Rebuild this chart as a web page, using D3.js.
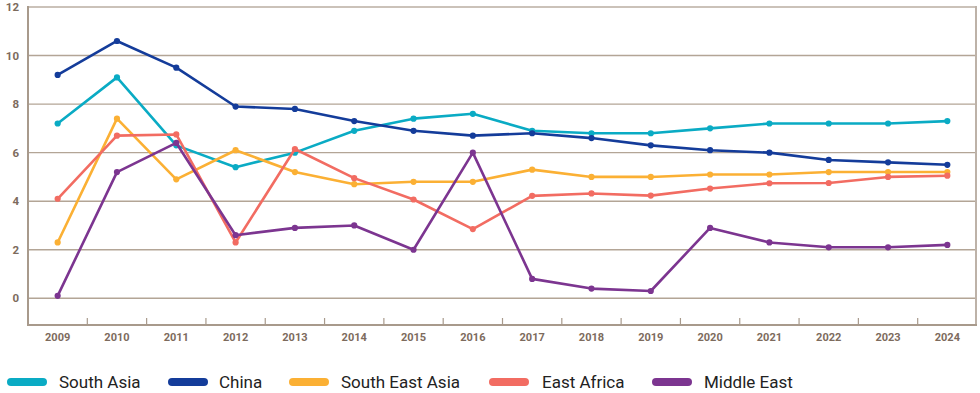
<!DOCTYPE html>
<html>
<head>
<meta charset="utf-8">
<script src="https://cdn.jsdelivr.net/npm/d3@7"></script>
<style>
  html, body { margin: 0; padding: 0; background: #fff; }
  svg { display: block; font-family: Roboto, "Noto Sans", sans-serif; }
</style>
</head>
<body>
<svg id="chart" width="980" height="393"></svg>
<script>
// Years on the horizontal axis
const years = ["2009","2010","2011","2012","2013","2014","2015","2016","2017","2018","2019","2020","2021","2022","2023","2024"];

// One series per region
const southAsia     = [7.2, 9.1, 6.3, 5.4, 6.0, 6.9, 7.4, 7.6, 6.9, 6.8, 6.8, 7.0, 7.2, 7.2, 7.2, 7.3];
const china         = [9.2, 10.6, 9.5, 7.9, 7.8, 7.3, 6.9, 6.7, 6.8, 6.6, 6.3, 6.1, 6.0, 5.7, 5.6, 5.5];
const southEastAsia = [2.3, 7.4, 4.9, 6.1, 5.2, 4.7, 4.8, 4.8, 5.3, 5.0, 5.0, 5.1, 5.1, 5.2, 5.2, 5.2];
const eastAfrica    = [4.1, 6.7, 6.75, 2.3, 6.15, 4.95, 4.07, 2.85, 4.22, 4.32, 4.23, 4.52, 4.74, 4.75, 5.0, 5.05];
const middleEast    = [0.1, 5.2, 6.4, 2.6, 2.9, 3.0, 2.0, 6.0, 0.8, 0.4, 0.3, 2.9, 2.3, 2.1, 2.1, 2.2];

const seriesNames  = ["South Asia", "China", "South East Asia", "East Africa", "Middle East"];
const seriesValues = [southAsia, china, southEastAsia, eastAfrica, middleEast];
const seriesColors = ["#0aabc4", "#143c9a", "#fbb034", "#f26c62", "#7c3590"];

const yTicks = [0, 2, 4, 6, 8, 10, 12];

const svg = d3.select("#chart");
const plotLeft = 28, plotRight = 976, plotTop = 7, plotBottom = 325;

const x = d3.scaleBand().domain(years).range([plotLeft, plotRight + 1]);
const y = d3.scaleLinear().domain([-1.1, 12]).range([plotBottom, plotTop]);

const axisColor = "#a89a8c";
const gridColor = "#b3a596";
const labelColor = "#7d6b5d";

// horizontal gridlines (top one acts as the frame edge)
svg.append("g").selectAll("line")
  .data(yTicks)
  .join("line")
  .attr("x1", plotLeft).attr("x2", plotRight)
  .attr("y1", d => y(d)).attr("y2", d => y(d))
  .attr("stroke", d => d === 12 ? "#cbc2b9" : gridColor)
  .attr("stroke-width", d => d === 12 ? 2 : 1.4);

// frame: left axis, right edge, bottom axis
svg.append("line").attr("x1", plotLeft).attr("x2", plotLeft).attr("y1", plotTop - 1).attr("y2", plotBottom + 1)
  .attr("stroke", axisColor).attr("stroke-width", 2);
svg.append("line").attr("x1", plotRight).attr("x2", plotRight).attr("y1", plotTop - 1).attr("y2", plotBottom + 1)
  .attr("stroke", "#bdb2a8").attr("stroke-width", 2);
svg.append("line").attr("x1", plotLeft - 1).attr("x2", plotRight + 1).attr("y1", plotBottom).attr("y2", plotBottom)
  .attr("stroke", axisColor).attr("stroke-width", 2);

// small ticks between year bands
svg.append("g").selectAll("line")
  .data(years.slice(1))
  .join("line")
  .attr("x1", d => x(d)).attr("x2", d => x(d))
  .attr("y1", plotBottom - 7).attr("y2", plotBottom)
  .attr("stroke", axisColor).attr("stroke-width", 1.2);

// y labels
svg.append("g").selectAll("text")
  .data(yTicks)
  .join("text")
  .attr("x", 19).attr("y", d => y(d))
  .attr("dy", "0.35em")
  .attr("text-anchor", "end")
  .attr("font-size", 11.5).attr("font-weight", 700)
  .attr("fill", labelColor)
  .text(d => d);

// x labels
svg.append("g").selectAll("text")
  .data(years)
  .join("text")
  .attr("x", d => x(d) + x.bandwidth() / 2).attr("y", 337)
  .attr("dy", "0.35em")
  .attr("text-anchor", "middle")
  .attr("font-size", 11).attr("font-weight", 700)
  .attr("fill", labelColor)
  .text(d => d);

const cx = (d, i) => x(years[i]) + x.bandwidth() / 2;
const line = d3.line().x(cx).y(d => y(d));

// series lines with point markers
seriesValues.forEach((vals, k) => {
  const g = svg.append("g");
  g.append("path")
    .datum(vals)
    .attr("d", line)
    .attr("fill", "none")
    .attr("stroke", seriesColors[k])
    .attr("stroke-width", 2.6)
    .attr("stroke-linejoin", "round");
  g.selectAll("circle")
    .data(vals)
    .join("circle")
    .attr("cx", cx).attr("cy", d => y(d))
    .attr("r", 3.1)
    .attr("fill", seriesColors[k]);
});

// legend
const legendItems = [
  { sx: 7,   tx: 59 },
  { sx: 168, tx: 219 },
  { sx: 289, tx: 341 },
  { sx: 489, tx: 542 },
  { sx: 652, tx: 704 }
];
const legend = svg.append("g");
legendItems.forEach((p, k) => {
  legend.append("line")
    .attr("x1", p.sx + 4).attr("x2", p.sx + 36)
    .attr("y1", 382).attr("y2", 382)
    .attr("stroke", seriesColors[k])
    .attr("stroke-width", 8)
    .attr("stroke-linecap", "round");
  legend.append("text")
    .attr("x", p.tx).attr("y", 382)
    .attr("dy", "0.35em")
    .attr("font-size", 17)
    .attr("fill", "#222")
    .text(seriesNames[k]);
});
</script>
</body>
</html>
